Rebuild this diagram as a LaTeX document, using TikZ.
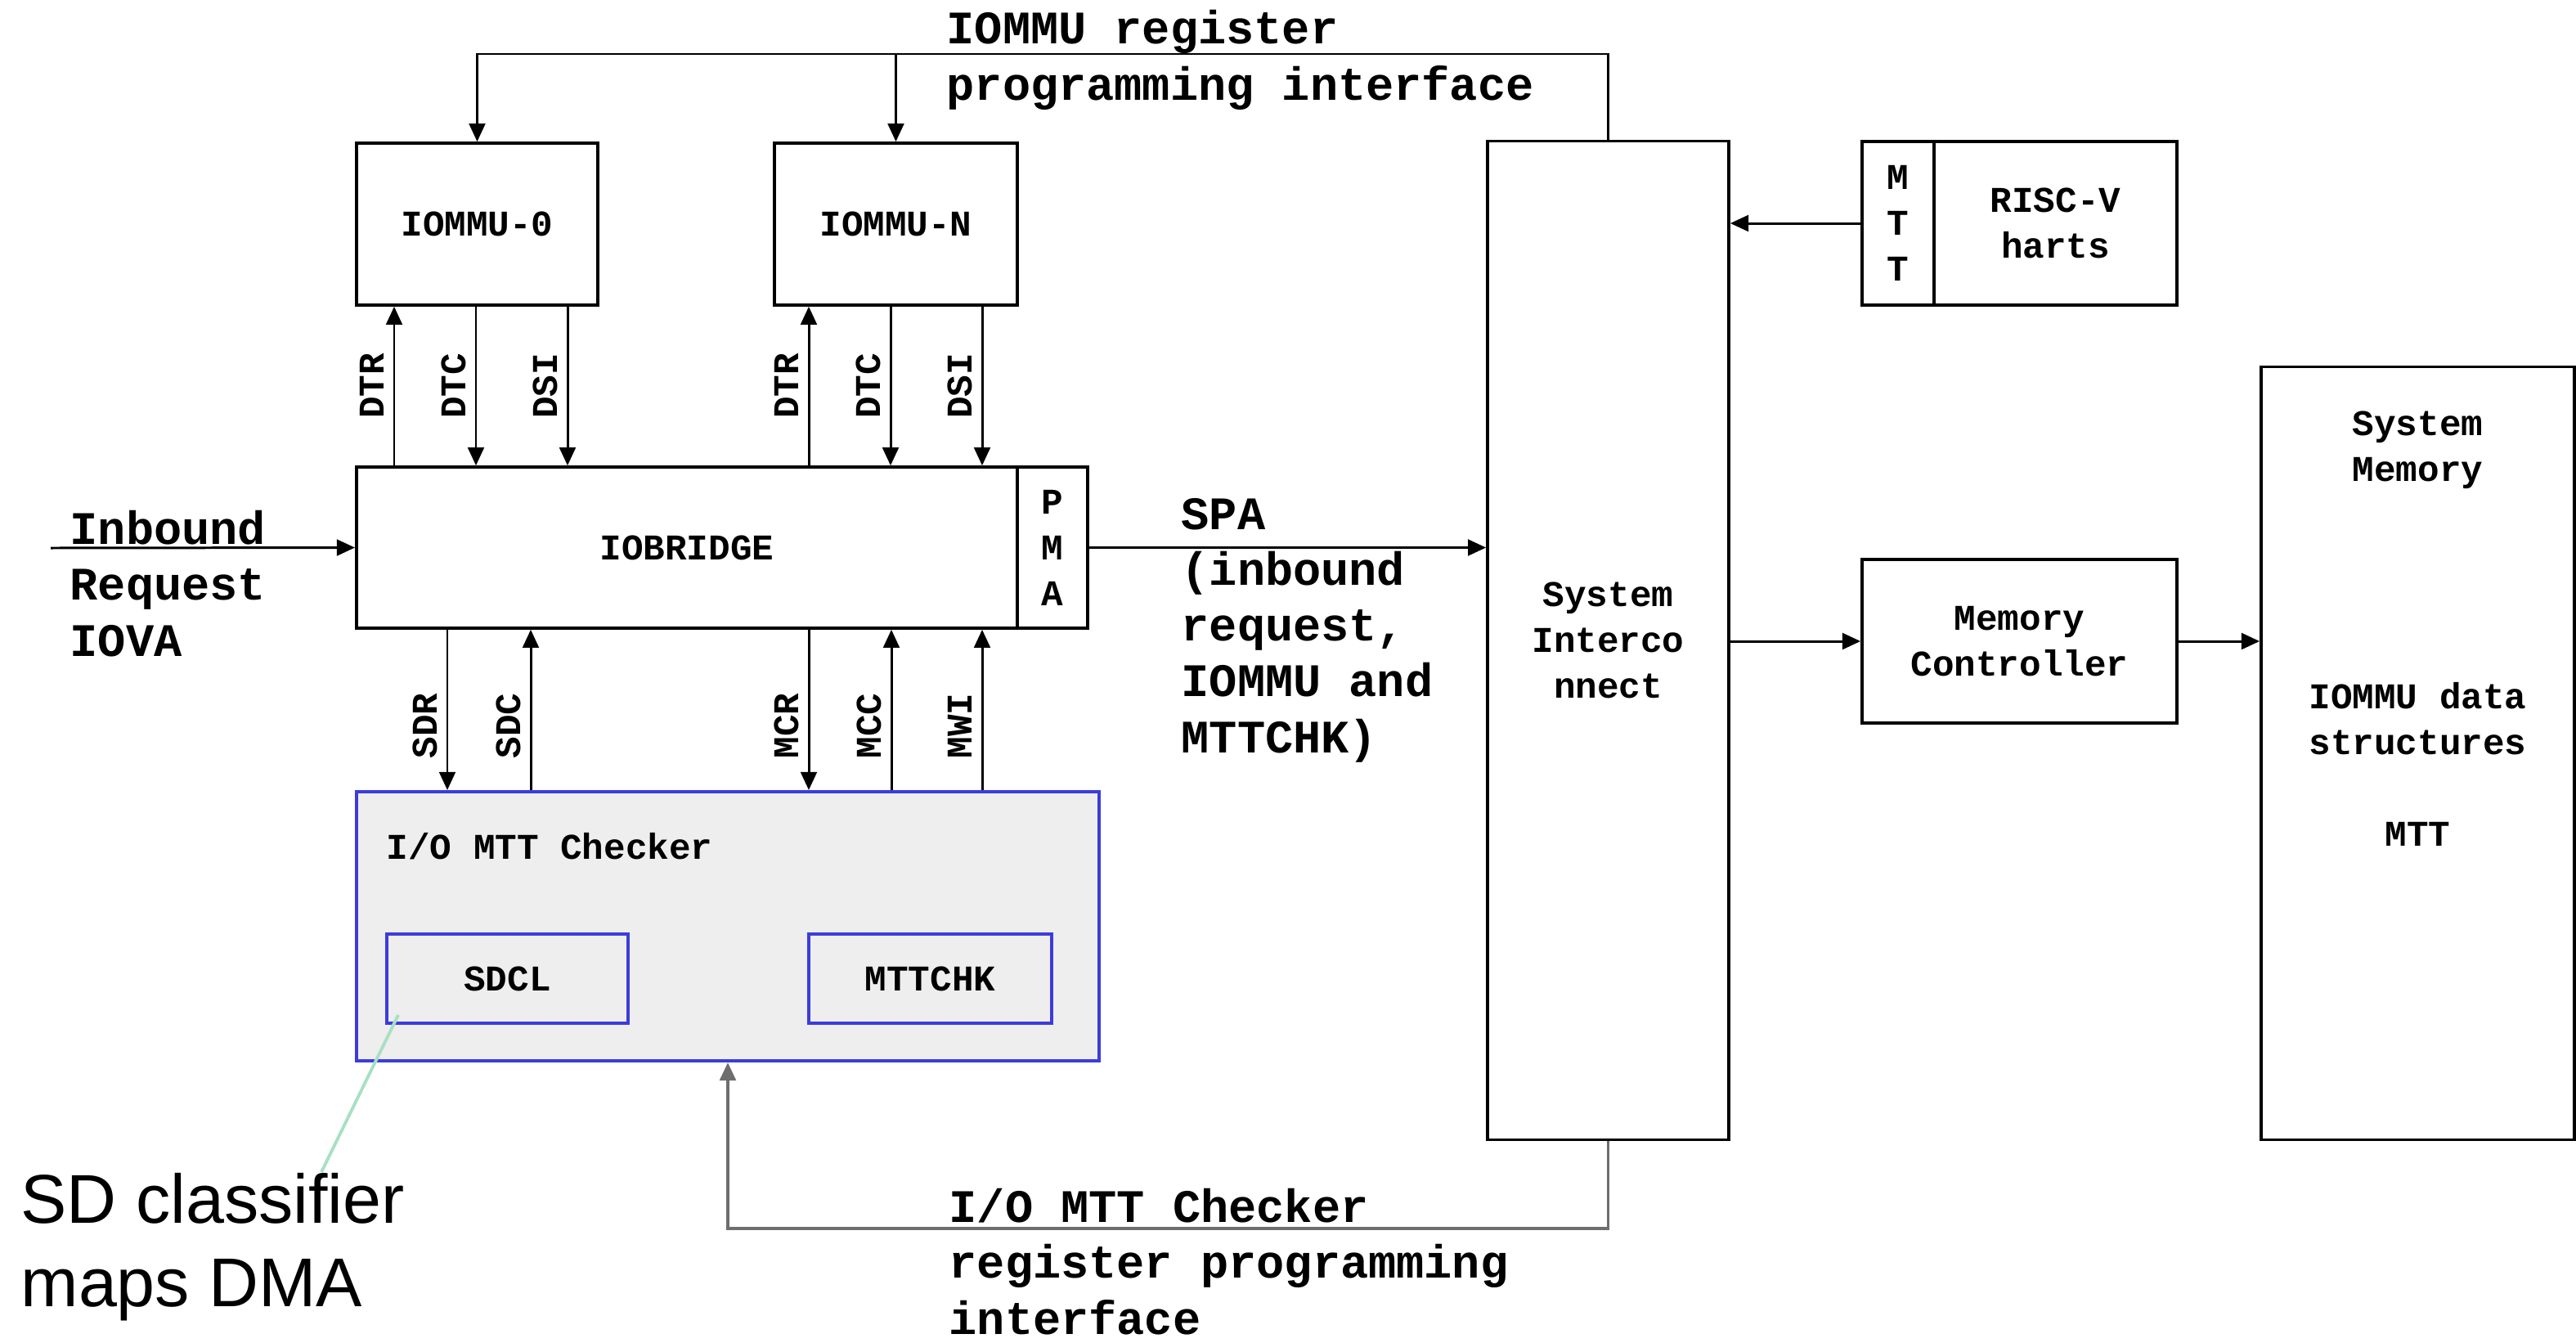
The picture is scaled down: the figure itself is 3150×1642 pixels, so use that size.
\documentclass[tikz,border=0pt]{standalone}
\usepackage{fontspec}
\setmonofont{Liberation Mono}
\setsansfont{Liberation Sans}
\usetikzlibrary{arrows.meta,calc}
\definecolor{rim}{HTML}{3C3CDC}
\definecolor{shade}{HTML}{EEEEEE}
\definecolor{leader}{HTML}{A8E0C4}
\definecolor{bus}{HTML}{6E6E6E}
\newcommand{\boxfont}{\ttfamily\bfseries\fontsize{12.6}{15.9}\selectfont}
\newcommand{\busfont}{\ttfamily\bfseries\fontsize{16.2}{19.4}\selectfont}
\tikzset{blk/.style={draw,line width=1pt,inner sep=0pt,align=center,font=\boxfont}, chk/.style={draw=rim,fill=shade,line width=1.1pt,inner sep=0pt}, sub/.style={draw=rim,line width=1.1pt,inner sep=0pt,font=\boxfont}, arr/.style={-{Triangle[length=6.3pt,width=5.6pt]},line width=.85pt}, vlab/.style={midway,rotate=90,anchor=south,inner sep=3pt,font=\boxfont}, txt/.style={inner sep=0pt,align=left,font=\busfont}, callout/.style={draw=leader,line width=1.1pt}}
\begin{document}
\begin{tikzpicture}[x=0.01cm,y=-0.01cm]
\useasboundingbox(0,0)rectangle(3150,1642);
\node[blk,minimum width=2.95cm,minimum height=1.98cm](iommu0)at(583.5,274){IOMMU-0};\node[blk,minimum width=2.97cm,minimum height=1.98cm](iommun)at(1095.5,274){IOMMU-N};
\node[blk,minimum width=8.08cm,minimum height=1.97cm](bridge)at(840,669.5){IOBRIDGE};\node[blk,minimum width=0.86cm,minimum height=1.97cm](pma)at(1287,669.5){P\\M\\A};
\node[blk,minimum width=2.95cm,minimum height=12.2cm](sysint)at(1966.5,783){System\\Interco\\nnect};
\node[blk,minimum width=0.88cm,minimum height=2cm](mtt)at(2321,273){M\\T\\T};\node[blk,minimum width=2.97cm,minimum height=2cm](harts)at(2513.5,273){RISC-V\\harts};
\node[blk,minimum width=3.85cm,minimum height=2cm](memctl)at(2469.5,784){Memory\\Controller};\node[blk,minimum width=3.83cm,minimum height=9.44cm](sysmem)at(2956.5,921){};
\node[blk,draw=none,anchor=base](memname)at(2956.5,588){System\\Memory};\node[blk,draw=none,anchor=base](memdata)at(2956.5,922){IOMMU data\\structures};\node[blk,draw=none,anchor=base](memmtt)at(2956.5,1034){MTT};
\node[chk,minimum width=9.08cm,minimum height=3.29cm](checker)at(890,1132.5){};\node[inner sep=0pt,anchor=base west,font=\boxfont](chkname)at(472,1050){I/O MTT Checker};
\node[sub,minimum width=2.95cm,minimum height=1.09cm](sdcl)at(620.5,1196.5){SDCL};\node[sub,minimum width=2.97cm,minimum height=1.09cm](mttchk)at(1137.5,1196.5){MTTCHK};
\node[txt,anchor=base west](regnote)at(1157,122){IOMMU register\\programming interface};
\node[txt,anchor=base west](inbound)at(85,802){Inbound\\Request\\IOVA};
\node[txt,anchor=base west](spanote)at(1444,920){SPA\\(inbound\\request,\\IOMMU and\\MTTCHK)};
\node[txt,anchor=base west](chknote)at(1160,1631){I/O MTT Checker\\register programming\\interface};
\node[inner sep=0pt,align=left,anchor=base west,font=\sffamily\fontsize{24}{29}\selectfont](sdnote)at(25,1597){SD classifier\\maps DMA};
\coordinate(src)at(62,670);\coordinate(sdtip)at(393,1433);
\draw[arr](sysint.north)--(sysint.north|-0,66)-|(iommu0.north);\draw[arr](iommun.north|-0,66)--(iommun.north);
\draw[arr](bridge.north-|482,0)--node[vlab]{DTR}(iommu0.south-|482,0);\draw[arr](iommu0.south-|582,0)--node[vlab]{DTC}(bridge.north-|582,0);\draw[arr](iommu0.south-|694,0)--node[vlab]{DSI}(bridge.north-|694,0);
\draw[arr](bridge.north-|989,0)--node[vlab]{DTR}(iommun.south-|989,0);\draw[arr](iommun.south-|1089,0)--node[vlab]{DTC}(bridge.north-|1089,0);\draw[arr](iommun.south-|1201,0)--node[vlab]{DSI}(bridge.north-|1201,0);
\draw[arr](bridge.south-|547,0)--node[vlab,pos=.6]{SDR}(checker.north-|547,0);\draw[arr](checker.north-|649,0)--node[vlab,pos=.4]{SDC}(bridge.south-|649,0);
\draw[arr](bridge.south-|989,0)--node[vlab,pos=.6]{MCR}(checker.north-|989,0);\draw[arr](checker.north-|1090,0)--node[vlab,pos=.4]{MCC}(bridge.south-|1090,0);\draw[arr](checker.north-|1201,0)--node[vlab,pos=.4]{MWI}(bridge.south-|1201,0);
\draw[arr](src)--(bridge.west);\draw[arr](pma.east)--(sysint.west|-pma.east);\draw[arr](mtt.west)--(sysint.east|-mtt.west);
\draw[arr](sysint.east|-memctl.west)--(memctl.west);\draw[arr](memctl.east)--(sysmem.west|-memctl.east);
\draw[arr,draw=bus,line width=1.1pt](sysint.south)--(sysint.south|-0,1502)-|(checker.south);
\draw[callout]($(sdcl.south west)+(16,-12)$)--(sdtip);
\end{tikzpicture}
\end{document}
